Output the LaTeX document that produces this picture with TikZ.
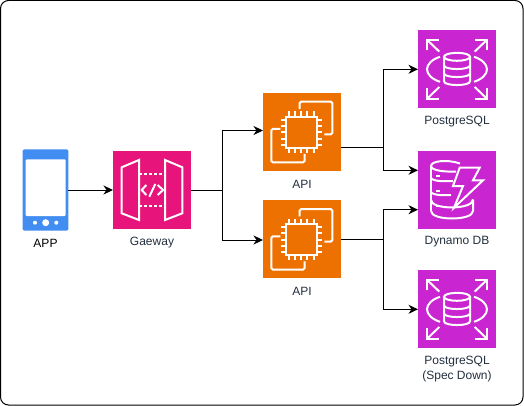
\documentclass[tikz,border=0pt]{standalone}
\usepackage{fontspec}
\setmainfont{Liberation Sans}
\usetikzlibrary{arrows.meta}
\definecolor{gatewaypink}{HTML}{E7157B}
\definecolor{computeorange}{HTML}{ED7100}
\definecolor{dbpurple}{HTML}{C925D1}
\definecolor{phoneblue}{HTML}{418DF2}
\definecolor{labelink}{HTML}{232F3E}
\tikzset{
  iconbox/.style={minimum size=78pt,inner sep=0pt,outer sep=0pt},
  gatewaybox/.style={iconbox,fill=gatewaypink},
  computebox/.style={iconbox,fill=computeorange},
  dbbox/.style={iconbox,fill=dbpurple},
  awslabel/.style={text=labelink,font=\fontsize{12}{14.4}\selectfont,align=center,inner sep=0pt},
  link/.style={black,line width=1pt,-{Stealth[length=9.5pt,width=9pt,inset=3pt]}},
  trunk/.style={black,line width=1pt},
  glyph/.style={white,line width=2pt,line join=miter},
  pics/chipicon/.style={code={
    \draw [glyph,rounded corners=1.5pt] (-2.3,-23) -- (-2.3,-30.3) -- (30.3,-30.3) -- (30.3,2.3) -- (22.3,2.3);
    \draw [glyph,rounded corners=1.5pt] (-21.7,-3) -- (-30.7,-3) -- (-30.7,30.3) -- (2.7,30.3) -- (2.7,22);
    \draw [glyph] (-16.5,-15.2) rectangle (14.5,15.8);
    \foreach \p in {-12.5,-6.25,0,6.25,12.5} {
      \draw [glyph] (-1+\p,-15.2) -- (-1+\p,-20.5);
      \draw [glyph] (-1+\p,15.8) -- (-1+\p,21);
      \draw [glyph] (-16.5,0.3+\p) -- (-21.5,0.3+\p);
      \draw [glyph] (14.5,0.3+\p) -- (20,0.3+\p);
    }
  }},
  pics/rdsicon/.style={code={
    \foreach \sx/\sy in {1/1,-1/1,1/-1,-1/-1} {
      \draw [glyph] (\sx*30,\sy*19) -- (\sx*30,\sy*29.5) -- (\sx*18,\sy*29.5);
      \draw [glyph] (\sx*30,\sy*29.5) -- (\sx*17.7,\sy*17.7);
    }
    \draw [glyph] (-17,-12.5) .. controls (-25,-10) and (-30,-5) .. (-30,0) .. controls (-30,5) and (-25,10) .. (-17,12.5);
    \draw [glyph] (17,-12.5) .. controls (25,-10) and (30,-5) .. (30,0) .. controls (30,5) and (25,10) .. (17,12.5);
    \draw [glyph] (0,-12.5) ellipse (13 and 4);
    \draw [glyph] (-13,-12.5) -- (-13,12) .. controls (-13,17) and (13,17) .. (13,12) -- (13,-12.5);
    \draw [glyph] (-13,-4) .. controls (-13,1) and (13,1) .. (13,-4);
    \draw [glyph] (-13,4) .. controls (-13,9) and (13,9) .. (13,4);
  }},
  pics/dynamoicon/.style={code={
    \draw [glyph] (-1,-18.5) .. controls (-10,-18) and (-26,-19) .. (-26,-24) .. controls (-26,-29) and (-10,-31) .. (3,-26.5);
    \draw [glyph] (-26,-24) -- (-26,21);
    \draw [glyph] (-26,-12) .. controls (-24,-8.5) and (-12,-8.5) .. (-4,-9);
    \draw [glyph] (-26,2) .. controls (-24,5.5) and (-12,5.5) .. (-6,5);
    \draw [glyph] (-26,10) .. controls (-26,20) and (16,20) .. (16,9.5);
    \draw [glyph] (-26,21) .. controls (-26,31) and (16,31) .. (16,21) -- (16,9.5);
    \draw [glyph] (-21,-14) -- (-17,-14);
    \draw [glyph] (-21,1) -- (-17,1);
    \draw [glyph] (-21,16) -- (-17,16);
    \draw [glyph] (2.7,-22.3) -- (22.7,-22.3) -- (16,-9.7) -- (26,-9.7) -- (-3,17.7) -- (6,-4) -- (-4,-4) -- cycle;
  }},
  pics/gatewayicon/.style={code={
    \draw [glyph] (-30.3,-22.7) -- (-13,-30) -- (-13,30) -- (-30.3,23.3) -- cycle;
    \draw [glyph] (30.3,-22.7) -- (13,-30) -- (13,30) -- (30.3,23.3) -- cycle;
    \draw [glyph,dash pattern=on 3pt off 2pt] (-13,-15.7) -- (13,-15.7);
    \draw [glyph,dash pattern=on 3pt off 2pt] (-13,16) -- (13,16);
    \draw [glyph] (-5.7,-5) -- (-10.3,0) -- (-5.7,5);
    \draw [glyph] (3.3,-6) -- (-2.7,6.7);
    \draw [glyph] (5.7,-5) -- (11,0) -- (5.7,5);
  }}
}
\begin{document}
\begin{tikzpicture}[x=1pt,y=-1pt]
\useasboundingbox (0,0) rectangle (524,406);
\draw [black,line width=1pt,rounded corners=8pt] (0.5,0.5) rectangle (523,405);
\node [minimum width=45.6pt,minimum height=81.4pt,inner sep=0pt,outer sep=0pt,fill=phoneblue,rounded corners=1.5pt] (phone) at (45.5,190) {};
\fill [white,rounded corners=1pt] (25.7,159.3) rectangle (65.7,216);
\fill [white] (45.7,222.7) circle (3.5);
\fill [white] (35,222.7) circle (2);
\fill [white] (56.3,222.7) circle (2);
\node [text=black,font=\fontsize{12}{14.4}\selectfont,inner sep=0pt] (phonelabel) at (45.5,243) {APP};
\node [gatewaybox] (gateway) at (152,190) {};
\pic at (gateway) {gatewayicon};
\node [awslabel] (gatewaylabel) at (152,243) {Gaeway};
\node [computebox] (api1) at (302,132) {};
\pic at (api1) {chipicon};
\node [awslabel] (api1label) at (302,184.5) {API};
\node [computebox] (api2) at (302,239.3) {};
\pic at (api2) {chipicon};
\node [awslabel] (api2label) at (302,291.5) {API};
\node [dbbox] (pg1) at (457,69.3) {};
\pic at (pg1) {rdsicon};
\node [awslabel] (pg1label) at (457,121.7) {PostgreSQL};
\node [dbbox] (dynamo) at (457,190) {};
\pic at (dynamo) {dynamoicon};
\node [awslabel] (dynamolabel) at (457,242) {Dynamo DB};
\node [dbbox] (pg2) at (457,309.3) {};
\pic at (pg2) {rdsicon};
\node [awslabel] (pg2label) at (457,369) {PostgreSQL\\(Spec Down)};
\coordinate (gatewayjoin) at (222.5,190);
\coordinate (api1in) at (263,130.5);
\coordinate (api2in) at (263,240);
\coordinate (api1out) at (341,147.3);
\coordinate (api1join) at (383,147.3);
\coordinate (api2out) at (341,239.5);
\coordinate (api2join) at (383,239.5);
\coordinate (dynamoin1) at (418,170.3);
\coordinate (dynamoin2) at (418,209.7);
\draw [link] (phone.east) -- (gateway.west);
\draw [trunk] (gateway.east) -- (gatewayjoin);
\draw [link] (gatewayjoin) |- (api1in);
\draw [link] (gatewayjoin) |- (api2in);
\draw [trunk] (api1out) -- (api1join);
\draw [link] (api1join) |- (pg1.west);
\draw [link] (api1join) |- (dynamoin1);
\draw [trunk] (api2out) -- (api2join);
\draw [link] (api2join) |- (dynamoin2);
\draw [link] (api2join) |- (pg2.west);
\end{tikzpicture}
\end{document}
